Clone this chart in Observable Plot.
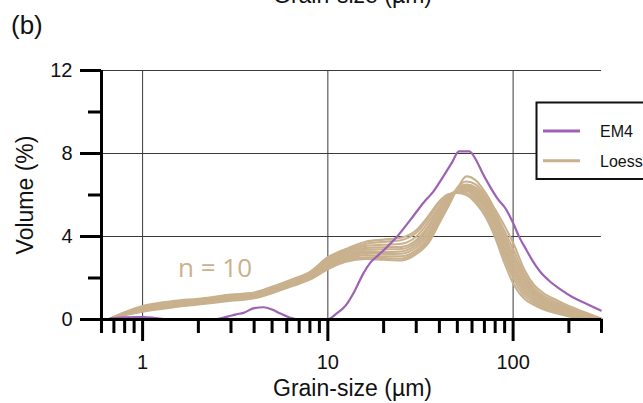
<!DOCTYPE html>
<html>
<head>
<meta charset="utf-8">
<script src="https://cdn.jsdelivr.net/npm/d3@7"></script>
<script src="https://cdn.jsdelivr.net/npm/@observablehq/plot@0.6"></script>
<style>
  body { margin: 0; background: #fff; }
  #wrap { position: relative; width: 643px; height: 403px; overflow: hidden; }
</style>
</head>
<body>
<div id="wrap"></div>
<script>
// ---- data ----
const grainSizes = [0.67, 0.8, 1, 1.5, 2, 3, 4, 5, 6.5, 8, 10, 12.5, 16, 20, 25, 30, 35, 40, 45, 50, 56, 63, 71, 80, 90, 100, 115, 130, 150, 175, 200, 240, 300];
const loess1  = [0.05,0.35,0.65,0.90,1.00,1.20,1.30,1.58,1.95,2.30,3.00,3.40,3.75,3.85,3.95,4.30,5.00,5.70,6.05,6.10,6.00,5.60,4.95,3.95,2.70,1.75,1.00,0.70,0.45,0.28,0.15,0.05,0.00];
const loess2  = [0.05,0.33,0.62,0.87,0.97,1.17,1.27,1.55,1.92,2.26,2.93,3.33,3.65,3.74,3.83,4.18,4.88,5.60,6.00,6.15,6.10,5.72,5.10,4.15,2.95,2.00,1.15,0.80,0.52,0.33,0.19,0.07,0.01];
const loess3  = [0.04,0.31,0.58,0.83,0.93,1.13,1.23,1.50,1.87,2.20,2.85,3.25,3.55,3.60,3.65,4.00,4.70,5.45,5.95,6.20,6.20,5.85,5.25,4.30,3.15,2.20,1.30,0.90,0.60,0.40,0.24,0.10,0.01];
const loess4  = [0.04,0.30,0.55,0.80,0.90,1.10,1.20,1.47,1.83,2.16,2.80,3.18,3.45,3.48,3.50,3.83,4.52,5.33,5.90,6.22,6.28,5.95,5.40,4.50,3.35,2.40,1.45,1.00,0.68,0.46,0.30,0.14,0.02];
const loess5  = [0.04,0.28,0.53,0.77,0.88,1.07,1.17,1.44,1.80,2.13,2.74,3.10,3.36,3.38,3.40,3.72,4.42,5.25,5.85,6.25,6.32,6.05,5.50,4.62,3.50,2.55,1.60,1.10,0.75,0.52,0.35,0.17,0.02];
const loess6  = [0.03,0.27,0.50,0.74,0.85,1.03,1.14,1.41,1.76,2.09,2.68,3.03,3.27,3.25,3.28,3.60,4.25,5.10,5.78,6.28,6.38,6.15,5.62,4.75,3.70,2.75,1.75,1.20,0.82,0.58,0.40,0.20,0.03];
const loess7  = [0.03,0.25,0.48,0.71,0.82,1.00,1.12,1.38,1.73,2.05,2.62,2.98,3.20,3.16,3.17,3.48,4.10,5.00,5.72,6.30,6.45,6.25,5.72,4.88,3.88,2.95,1.90,1.30,0.90,0.65,0.45,0.24,0.03];
const loess8  = [0.03,0.24,0.45,0.68,0.79,0.97,1.09,1.35,1.70,2.02,2.56,2.92,3.10,3.05,3.05,3.35,3.95,4.88,5.65,6.30,6.50,6.35,5.82,5.00,4.05,3.15,2.05,1.40,0.98,0.72,0.50,0.28,0.04];
const loess9  = [0.02,0.22,0.41,0.64,0.76,0.93,1.05,1.30,1.66,1.97,2.48,2.85,3.00,2.96,2.94,3.25,3.82,4.75,5.55,6.35,6.65,6.50,5.95,5.15,4.25,3.40,2.20,1.50,1.08,0.80,0.56,0.32,0.04];
const loess10 = [0.02,0.20,0.38,0.60,0.72,0.90,1.02,1.27,1.62,1.92,2.42,2.78,2.92,2.88,2.85,3.15,3.70,4.65,5.50,6.30,6.90,6.70,6.10,5.30,4.50,3.70,2.40,1.65,1.20,0.90,0.65,0.38,0.04];

const em4Sizes  = [0.67, 0.8, 1.0, 1.15, 1.3, 2.5, 2.9, 3.2, 3.5, 4.0, 4.5, 5.0, 5.5, 6.2, 6.8, 10, 11, 12.5, 14, 15.5, 17, 19, 21, 23.5, 26, 29, 33, 37, 42, 47, 51, 58, 63, 68, 74, 82, 91, 100, 108, 118, 127, 140, 156, 180, 210, 250, 297];
const em4Volume = [0.05, 0.10, 0.12, 0.08, 0.02, 0.02, 0.15, 0.25, 0.32, 0.55, 0.59, 0.48, 0.30, 0.10, 0.01, 0.01, 0.25, 0.68, 1.40, 2.20, 2.75, 3.15, 3.52, 3.97, 4.45, 5.00, 5.65, 6.15, 6.90, 7.60, 8.10, 8.10, 7.70, 7.10, 6.50, 5.85, 5.35, 4.65, 3.97, 3.35, 2.85, 2.30, 1.88, 1.45, 1.07, 0.75, 0.43];

const majorTicksX = [1, 10, 100];
const minorTicksX = [0.6, 0.7, 0.8, 0.9, 2, 3, 4, 5, 6, 7, 8, 9, 20, 30, 40, 50, 60, 70, 80, 90, 200, 300];
const majorTicksY = [0, 4, 8, 12];
const minorTicksY = [2, 6, 10];
const gridY = [4, 8, 12];
const seriesNames = ["EM4", "Loess"];
const seriesColors = ["#9d62b3", "#c9b18e"];
const nLabel = "n = 10";

// ---- tables ----
const loessSeries = [loess1, loess2, loess3, loess4, loess5, loess6, loess7, loess8, loess9, loess10];
const loessRows = loessSeries.flatMap((vals, i) => vals.map((v, j) => ({id: i, size: grainSizes[j], vol: v})));
const em4Rows = em4Sizes.map((s, i) => ({size: s, vol: em4Volume[i]}));

const font = "'Liberation Sans', Arial, Helvetica, sans-serif";

const chart = Plot.plot({
  width: 643,
  height: 403,
  marginLeft: 101,
  marginRight: 42,
  marginTop: 70,
  marginBottom: 84,
  style: {fontFamily: font, background: "white", color: "#000"},
  x: {type: "log", domain: [0.6, 300]},
  y: {domain: [0, 12]},
  marks: [
    Plot.ruleX(majorTicksX, {stroke: "#3a3a3a", strokeWidth: 1}),
    Plot.ruleY(gridY, {stroke: "#3a3a3a", strokeWidth: 1}),
    Plot.line(loessRows, {x: "size", y: "vol", z: "id", stroke: seriesColors[1], strokeWidth: 2.1, curve: "monotone-x"}),
    Plot.line(em4Rows, {x: "size", y: "vol", stroke: seriesColors[0], strokeWidth: 2.2, curve: "monotone-x"}),
    Plot.axisX({ticks: minorTicksX, tickSize: 14, tickFormat: () => "", stroke: "#000", strokeWidth: 3, label: null}),
    Plot.axisX({ticks: majorTicksX, tickSize: 22, tickPadding: 13, tickFormat: d => String(d), stroke: "#000", strokeWidth: 3, fontSize: 20, fill: "#111", label: null}),
    Plot.axisY({ticks: minorTicksY, tickSize: 13, tickFormat: () => "", stroke: "#000", strokeWidth: 3, label: null}),
    Plot.axisY({ticks: majorTicksY, tickSize: 21, tickPadding: 8, tickFormat: d => String(d), stroke: "#000", strokeWidth: 3, fontSize: 20, fill: "#111", label: null}),
    Plot.ruleY([0], {stroke: "#000", strokeWidth: 3}),
    Plot.ruleX([0.6], {stroke: "#000", strokeWidth: 3})
  ]
});

document.getElementById("wrap").appendChild(chart);

// ---- annotations ----
const svg = d3.select(chart);
svg.append("text").attr("x", 352.5).attr("y", 3).attr("text-anchor", "middle")
  .attr("font-family", font).attr("font-size", 23).attr("fill", "#111").text("Grain-size (µm)");
svg.append("text").attr("x", 11).attr("y", 34).attr("text-anchor", "start")
  .attr("font-family", font).attr("font-size", 26).attr("fill", "#111").text("(b)");
svg.append("text").attr("x", 352.5).attr("y", 395.5).attr("text-anchor", "middle")
  .attr("font-family", font).attr("font-size", 23).attr("fill", "#111").text("Grain-size (µm)");
svg.append("text").attr("transform", "translate(33,195) rotate(-90)").attr("text-anchor", "middle")
  .attr("font-family", font).attr("font-size", 23).attr("fill", "#111").text("Volume (%)");
svg.append("text").attr("x", 178).attr("y", 277).attr("text-anchor", "start")
  .attr("font-family", "'Open Sans', 'Noto Sans', sans-serif").attr("font-size", 26).attr("fill", seriesColors[1]).text(nLabel);

// legend
const lg = svg.append("g");
lg.append("rect").attr("x", 536.5).attr("y", 102.5).attr("width", 130).attr("height", 76.5)
  .attr("fill", "white").attr("stroke", "#111").attr("stroke-width", 2);
seriesNames.forEach((name, i) => {
  const yy = 131 + i * 29.7;
  lg.append("line").attr("x1", 543).attr("x2", 580).attr("y1", yy).attr("y2", yy)
    .attr("stroke", seriesColors[i]).attr("stroke-width", 3);
  lg.append("text").attr("x", 600).attr("y", yy + 5.8).attr("text-anchor", "start")
    .attr("font-family", font).attr("font-size", 16).attr("fill", "#111").text(name);
});
</script>
</body>
</html>
